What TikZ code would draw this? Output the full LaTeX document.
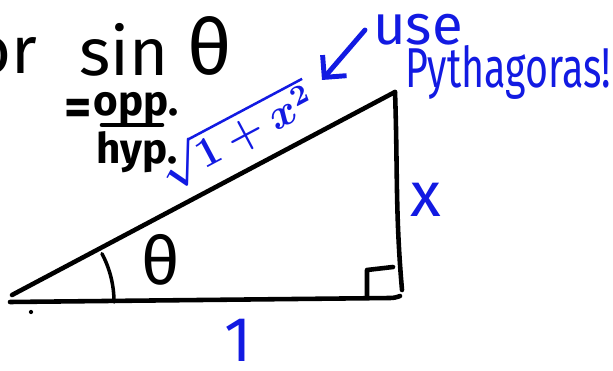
\documentclass[tikz,border=0pt]{standalone}
\usepackage{fontspec}
\setmainfont{Fira Sans}
\usetikzlibrary{arrows.meta}
\definecolor{penblue}{RGB}{18,26,226}
\tikzset{
  side/.style={line width=1.3pt, line cap=round, line join=round},
  penline/.style={draw=penblue, line width=1.4pt, line cap=round, line join=round},
  blk/.style={inner sep=0pt, font=\fontsize{19}{22}\selectfont},
  blu/.style={inner sep=0pt, text=penblue, font=\fontsize{18}{21}\selectfont}
}
\begin{document}
\begin{tikzpicture}
    \useasboundingbox (0,0) rectangle (6.13,3.70);
    % triangle
    \coordinate (A) at (0.12,0.75);
    \coordinate (A') at (0.10,0.68);
    \coordinate (B) at (4.00,0.74);
    \coordinate (C) at (3.95,2.78);
    \draw[side] (A) -- (C);
    \draw[side] (A') -- (3.90,0.72) to[out=0,in=200] (B);
    \draw[side] (C) to[out=-88,in=95] (4.02,0.80);
    \draw[side] (3.67,0.73) -- (3.67,1.00) -- (3.93,1.03);
    \draw[side, line width=1pt] (1.14,0.68) arc[start angle=0, end angle=28, radius=1.03];
    \fill (0.31,0.58) circle (0.6pt);
    % labels
    \node[blk] (theta) at (1.61,1.10) {θ};
    \node[blk] (sin) at (1.24,3.20) {sin};
    \node[blk, font=\fontsize{22}{25}\selectfont] (sintheta) at (2.10,3.24) {θ};
    \node[blk, anchor=east] (or) at (0.38,3.14) {or};
    \node[blk, font=\fontsize{15}{18}\selectfont\bfseries] (eq) at (0.78,2.58) {=};
    \node[blk, font=\fontsize{12}{14}\selectfont\bfseries] (opp) at (1.36,2.61) {opp.};
    \node[blk, font=\fontsize{12}{14}\selectfont\bfseries] (hyp) at (1.37,2.18) {hyp.};
    \draw[side] (1.02,2.45) -- (1.62,2.45);
    \node[blu, rotate=28, font=\fontsize{12}{15}\selectfont\boldmath] (hypot) at (2.36,2.35) {$\sqrt{1+x^2}$};
    \node[blu] (xside) at (4.26,1.70) {x};
    \node[blu] (base) at (2.38,0.30) {1};
    \node[blu, font=\fontsize{16}{19}\selectfont] (use) at (4.18,3.40) {use};
    \node[blu, font=\fontsize{16}{19}\selectfont, xscale=0.70] (pyth) at (5.08,2.98) {Pythagoras!};
    \coordinate (tail) at (3.65,3.40);
    \coordinate (tip) at (3.22,2.90);
    \draw[penline, -{Straight Barb[length=4.5pt,width=9pt]}] (tail) -- (tip);
\end{tikzpicture}
\end{document}
